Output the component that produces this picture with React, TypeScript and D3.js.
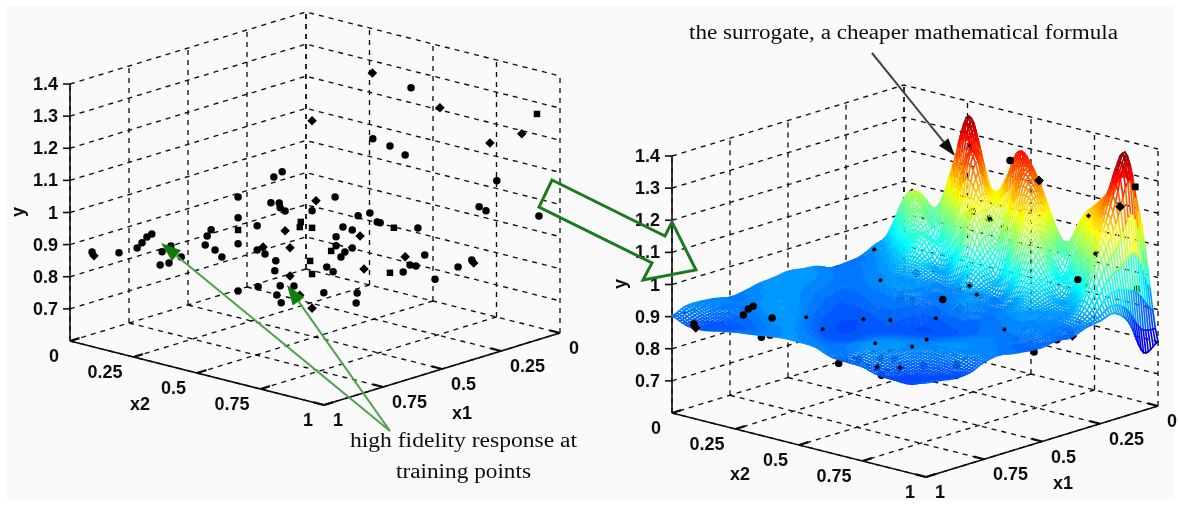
import React, { useMemo } from 'react';
import * as d3 from 'd3';

// ticks
const yTicks = [0.7, 0.8, 0.9, 1, 1.1, 1.2, 1.3, 1.4];
const floorTicks = [0, 0.25, 0.5, 0.75, 1];

// training points
const x1Values = [
  0.3, 0.304, 0.506, 0.245, 0.047, 0.078, 0.143, 0.382, 0.347, 0.316, 0.129, 0.567, 0.584, 0.657, 0.459, 0.498,
  0.165, 0.151, 0.59, 0.573, 0.571, 0.561, 0.506, 0.388, 0.412, 0.043, 0.657, 0.529, 0.531, 0.618, 0.657, 0.712,
  0.506, 0.561, 0.443, 0.424, 0.373, 0.367, 0.339, 0.29, 0.408, 0.457, 0.72, 0.833, 0.843, 0.853, 0.863, 0.724,
  0.657, 0.955, 0.951, 0.9, 0.794, 0.812, 0.704, 0.606, 0.618, 0.602, 0.551, 0.467, 0.457, 0.424, 0.439, 0.447,
  0.316, 0.276, 0.18, 0.69, 0.773, 0.58, 0.51, 0.816, 0.798, 0.582, 0.506, 0.476, 0.463, 0.4, 0.347, 0.32,
  0.306, 0.294, 0.255, 0.208, 0.176, 0.551, 0.657, 0.616, 0.571, 0.543, 0.578, 0.531, 0.569, 0.482, 0.414, 0.416, 0.506,
];
const x2Values = [
  0.54, 0.696, 0.494, 0.755, 0.953, 0.922, 0.857, 0.618, 0.653, 0.684, 0.871, 0.433, 0.416, 0.343, 0.541, 0.502,
  0.835, 0.849, 0.41, 0.427, 0.429, 0.439, 0.494, 0.612, 0.588, 0.957, 0.343, 0.471, 0.469, 0.382, 0.343, 0.288,
  0.494, 0.439, 0.557, 0.576, 0.627, 0.633, 0.661, 0.71, 0.592, 0.543, 0.28, 0.167, 0.157, 0.147, 0.137, 0.276,
  0.343, 0.045, 0.049, 0.1, 0.206, 0.188, 0.296, 0.394, 0.382, 0.398, 0.449, 0.533, 0.543, 0.576, 0.561, 0.553,
  0.684, 0.724, 0.82, 0.31, 0.227, 0.42, 0.49, 0.184, 0.202, 0.418, 0.494, 0.524, 0.537, 0.6, 0.653, 0.68,
  0.694, 0.706, 0.745, 0.792, 0.824, 0.449, 0.343, 0.384, 0.429, 0.457, 0.422, 0.469, 0.431, 0.518, 0.586, 0.584, 0.494,
];
const yValues = [
  1.385, 1.371, 1.273, 1.307, 1.283, 1.222, 1.195, 1.214, 1.191, 1.162, 1.077, 1.116, 1.1, 1.04, 1.035, 1.024,
  0.997, 0.984, 1.02, 1.019, 1.004, 0.994, 0.993, 0.983, 0.975, 0.965, 0.975, 0.959, 0.943, 0.949, 0.937, 0.939,
  0.94, 0.932, 0.941, 0.931, 0.955, 0.952, 0.936, 0.934, 0.912, 0.911, 0.92, 0.929, 0.92, 0.902, 0.886, 0.892,
  0.894, 0.876, 0.864, 0.872, 0.891, 0.873, 0.876, 0.883, 0.874, 0.861, 0.879, 0.867, 0.883, 0.875, 0.863, 0.848,
  0.845, 0.85, 0.832, 0.854, 0.856, 0.839, 0.837, 0.832, 0.838, 0.808, 0.796, 0.817, 0.802, 0.809, 0.796, 0.798,
  0.819, 0.816, 0.774, 0.811, 0.822, 0.791, 0.747, 0.759, 0.761, 0.76, 0.733, 0.731, 0.708, 0.737, 0.735, 0.704, 0.69,
];
// which points are drawn as diamonds or squares, the rest are round
const diamondPoints = [0, 2, 3, 5, 6, 15, 33, 40, 50, 55, 58, 64, 77, 84, 85, 91, 96];
const squarePoints = [4, 27, 28, 30, 32, 38, 59, 70, 74, 78];

// points that sit on top of the surface in the right plot (index into the arrays above)
const topPointsLarge = [1, 3, 4, 5, 16, 34, 43, 44, 45, 49, 50, 52];
const topPointsSmall = [6, 8, 10, 12, 20, 23, 36, 47, 55, 58, 60, 64, 67, 73, 74, 75, 90, 91];

// surrogate surface heights: rows x1 = 0..1, columns x2 = 0..1, in 1/16 steps
const surfaceRows = [
  [1.03, 1.06, 0.98, 1.17, 1.3, 1.18, 1.12, 1.25, 1.23, 1.11, 0.99, 1.08, 1.15, 1.2, 1.31, 1.14, 0.8],
  [0.95, 1.08, 1.1, 1.03, 1.21, 1.38, 1.2, 1.15, 1.3, 1.27, 1.16, 1.04, 1.14, 1.2, 1.26, 1.37, 0.78],
  [0.93, 0.96, 1.05, 1.06, 1.0, 1.12, 1.29, 1.15, 1.08, 1.22, 1.2, 1.08, 0.99, 1.08, 1.19, 1.22, 0.887],
  [0.908, 0.92, 0.95, 1.0, 1.02, 0.96, 1.0, 1.12, 1.02, 0.98, 1.12, 1.1, 1.0, 0.95, 1.01, 1.1, 0.93],
  [0.902, 0.91, 0.92, 0.94, 0.96, 0.95, 0.93, 0.95, 0.98, 0.94, 0.94, 1.0, 0.98, 0.94, 0.93, 0.97, 0.92],
  [0.9, 0.905, 0.91, 0.92, 0.925, 0.93, 0.92, 0.91, 0.92, 0.93, 0.915, 0.915, 0.945, 0.93, 0.92, 0.915, 0.912],
  [0.918, 0.91, 0.905, 0.91, 0.92, 0.925, 0.92, 0.91, 0.91, 0.92, 0.915, 0.91, 0.92, 0.925, 0.915, 0.91, 0.896],
  [0.924, 0.92, 0.91, 0.9, 0.905, 0.91, 0.91, 0.9, 0.895, 0.9, 0.905, 0.9, 0.905, 0.915, 0.92, 0.91, 0.9],
  [0.93, 0.925, 0.915, 0.9, 0.895, 0.9, 0.905, 0.9, 0.89, 0.885, 0.89, 0.895, 0.9, 0.905, 0.91, 0.905, 0.893],
  [0.924, 0.925, 0.92, 0.905, 0.89, 0.885, 0.89, 0.895, 0.89, 0.88, 0.88, 0.885, 0.895, 0.905, 0.91, 0.9, 0.896],
  [0.92, 0.925, 0.925, 0.915, 0.9, 0.885, 0.88, 0.885, 0.89, 0.885, 0.885, 0.89, 0.9, 0.91, 0.915, 0.91, 0.902],
  [0.91, 0.92, 0.925, 0.925, 0.91, 0.89, 0.88, 0.88, 0.885, 0.89, 0.895, 0.9, 0.905, 0.915, 0.92, 0.915, 0.91],
  [0.905, 0.91, 0.92, 0.93, 0.925, 0.905, 0.885, 0.88, 0.885, 0.895, 0.905, 0.91, 0.915, 0.92, 0.92, 0.915, 0.902],
  [0.915, 0.91, 0.91, 0.92, 0.93, 0.925, 0.9, 0.885, 0.885, 0.895, 0.91, 0.92, 0.92, 0.915, 0.905, 0.895, 0.883],
  [0.92, 0.905, 0.895, 0.9, 0.915, 0.925, 0.92, 0.905, 0.895, 0.9, 0.915, 0.925, 0.92, 0.905, 0.89, 0.88, 0.88],
  [0.92, 0.895, 0.885, 0.885, 0.895, 0.91, 0.92, 0.92, 0.91, 0.905, 0.91, 0.92, 0.91, 0.895, 0.88, 0.875, 0.887],
  [0.902, 0.883, 0.883, 0.893, 0.902, 0.908, 0.915, 0.921, 0.921, 0.918, 0.9, 0.896, 0.893, 0.88, 0.877, 0.877, 0.893],
];

const jetStops = [0, 0.125, 0.375, 0.625, 0.875, 1];
const jetColors = ['#000080', '#0000ff', '#00ffff', '#ffff00', '#ff0000', '#800000'];
const zRange: [number, number] = [0.75, 1.39];

const SANS = '"Liberation Sans", Arial, sans-serif';
const SERIF = '"Liberation Serif", "Times New Roman", serif';

type Box = { ox: number; oy: number; x1Vec: [number, number]; x2Vec: [number, number] };

// oblique projection of the matlab style box, x1 = x2 = 0 is the back corner
function makeProjection(box: Box) {
  const x1X = d3.scaleLinear([0, 1], [0, box.x1Vec[0]]);
  const x1Y = d3.scaleLinear([0, 1], [0, box.x1Vec[1]]);
  const x2X = d3.scaleLinear([0, 1], [0, box.x2Vec[0]]);
  const x2Y = d3.scaleLinear([0, 1], [0, box.x2Vec[1]]);
  const z = d3.scaleLinear([0.6, 1.4], [0, 257]);
  return (x1: number, x2: number, y: number): [number, number] => [
    box.ox + x1X(x1) + x2X(x2),
    box.oy + x1Y(x1) + x2Y(x2) - z(y),
  ];
}

const catmull = (a: number, b: number, c: number, d: number, t: number) =>
  0.5 * (2 * b + (c - a) * t + (2 * a - 5 * b + 4 * c - d) * t * t + (-a + 3 * b - 3 * c + d) * t * t * t);

function sampleSurface(u: number, v: number) {
  const n = surfaceRows.length - 1;
  const clamp = (i: number) => Math.max(0, Math.min(n, i));
  const r = Math.min(n - 1, Math.floor(u));
  const c = Math.min(n - 1, Math.floor(v));
  const col = (ri: number) => {
    const row = surfaceRows[clamp(ri)];
    return catmull(row[clamp(c - 1)], row[clamp(c)], row[clamp(c + 1)], row[clamp(c + 2)], v - c);
  };
  const val = catmull(col(r - 1), col(r), col(r + 1), col(r + 2), u - r);
  return Math.max(0.745, Math.min(1.39, val));
}

function Surface({ box }: { box: Box }) {
  const groups = useMemo(() => {
    const project = makeProjection(box);
    const jet = d3.scaleLinear<string>()
      .domain(jetStops.map((s) => zRange[0] + s * (zRange[1] - zRange[0])))
      .range(jetColors)
      .clamp(true);
    const level = d3.scaleQuantize<number>().domain(zRange).range(d3.range(64));
    const sub = 6;
    const n = (surfaceRows.length - 1) * sub;
    const z: number[][] = d3.range(n + 1).map((i) => d3.range(n + 1).map((j) => sampleSurface(i / sub, j / sub)));
    const pos = (i: number, j: number) => project(i / n, j / n, z[i][j]);
    const out: { d: string; color: string; key: string }[] = [];
    // back row first so the front of the surface paints over the back
    for (let i = 0; i <= n; i++) {
      const paths = new Map<number, any>();
      const seg = (a: [number, number], b: [number, number], za: number, zb: number) => {
        const l = level((za + zb) / 2);
        if (!paths.has(l)) paths.set(l, d3.path());
        const p = paths.get(l);
        p.moveTo(a[0], a[1]);
        p.lineTo(b[0], b[1]);
      };
      for (let j = 0; j <= n; j++) {
        if (j < n) seg(pos(i, j), pos(i, j + 1), z[i][j], z[i][j + 1]);
        if (i < n) seg(pos(i, j), pos(i + 1, j), z[i][j], z[i + 1][j]);
      }
      paths.forEach((p, l) => {
        out.push({ d: p.toString(), color: jet(zRange[0] + ((l + 0.5) / 64) * (zRange[1] - zRange[0])), key: i + '-' + l });
      });
    }
    return out;
  }, [box]);
  return (
    <g fill="none" strokeWidth={1.6} strokeLinecap="round">
      {groups.map((g) => <path key={g.key} d={g.d} stroke={g.color} />)}
    </g>
  );
}

function Points({ box, only, scale = 1 }: { box: Box; only?: number[]; scale?: number }) {
  const project = makeProjection(box);
  const idx = only || d3.range(x1Values.length);
  return (
    <g fill="#000">
      {idx.map((i) => {
        const [px, py] = project(x1Values[i], x2Values[i], yValues[i]);
        const isDiamond = diamondPoints.includes(i);
        const isSquare = squarePoints.includes(i);
        const type = isDiamond ? d3.symbolDiamond2 : isSquare ? d3.symbolSquare : d3.symbolCircle;
        const size = isDiamond ? 58 : isSquare ? 42 : 44;
        const d = d3.symbol(type, size * scale)() as string;
        return <path key={i} d={d} transform={`translate(${px},${py})`} />;
      })}
    </g>
  );
}

function Box3D({ box, yLabelX, xLabels }: { box: Box; yLabelX: number; xLabels: { x2: [number, number]; x1: [number, number] } }) {
  const p = makeProjection(box);
  const line = d3.line();
  const bottom = 0.6;
  const top = 1.4;
  const grid: string[] = [];
  floorTicks.forEach((t) => {
    // floor
    grid.push(line([p(t, 0, bottom), p(t, 1, bottom)]) as string);
    grid.push(line([p(0, t, bottom), p(1, t, bottom)]) as string);
    // walls, verticals
    grid.push(line([p(t, 0, bottom), p(t, 0, top)]) as string);
    grid.push(line([p(0, t, bottom), p(0, t, top)]) as string);
  });
  yTicks.forEach((v) => {
    grid.push(line([p(1, 0, v), p(0, 0, v), p(0, 1, v)]) as string);
  });
  const fontProps = { fontFamily: SANS, fontWeight: 700, fontSize: 18, fill: '#111' };
  const [, ly] = p(1, 0, bottom);
  return (
    <g>
      <g fill="none" stroke="#111" strokeWidth={1.35} strokeDasharray="5 5">
        {grid.map((d, i) => <path key={i} d={d} />)}
      </g>
      {/* solid axes */}
      <g fill="none" stroke="#111" strokeWidth={1.6}>
        <path d={line([p(1, 0, bottom), p(1, 0, top)]) as string} />
        <path d={line([p(1, 0, bottom), p(1, 1, bottom)]) as string} />
        <path d={line([p(1, 1, bottom), p(0, 1, bottom)]) as string} />
        {yTicks.map((v) => {
          const [ax, ay] = p(1, 0, v);
          return <path key={v} d={line([[ax - 7, ay], [ax, ay]]) as string} />;
        })}
        {floorTicks.map((t) => <path key={'a' + t} strokeWidth={2.2} d={line([p(1, t, bottom), p(0.96, t, bottom)]) as string} />)}
        {floorTicks.map((t) => <path key={'b' + t} strokeWidth={2.2} d={line([p(t, 1, bottom), p(t, 0.96, bottom)]) as string} />)}
      </g>
      {yTicks.map((v) => {
        const [ax, ay] = p(1, 0, v);
        return <text key={v} x={ax - 12} y={ay + 6} textAnchor="end" {...fontProps}>{String(v)}</text>;
      })}
      {floorTicks.map((t) => {
        const [ax, ay] = p(1, t, bottom);
        return <text key={'x2' + t} x={ax - 11} y={ay + 21} textAnchor="end" {...fontProps}>{String(t)}</text>;
      })}
      {floorTicks.map((t) => {
        const [ax, ay] = p(t, 1, bottom);
        return <text key={'x1' + t} x={ax + 9} y={ay + 21} textAnchor="start" {...fontProps}>{String(t)}</text>;
      })}
      <text x={xLabels.x2[0]} y={xLabels.x2[1]} textAnchor="middle" {...fontProps}>x2</text>
      <text x={xLabels.x1[0]} y={xLabels.x1[1]} textAnchor="middle" {...fontProps}>x1</text>
      <text transform={`translate(${yLabelX},${ly - 129}) rotate(-90)`} textAnchor="middle" {...fontProps}>y</text>
    </g>
  );
}

function Arrow({ from, to, color, headColor, width, len, half }: any) {
  const a = Math.atan2(from[1] - to[1], from[0] - to[0]);
  const bx = to[0] + Math.cos(a) * len;
  const by = to[1] + Math.sin(a) * len;
  const head = [
    to,
    [bx - Math.sin(a) * half, by + Math.cos(a) * half],
    [bx + Math.sin(a) * half, by - Math.cos(a) * half],
  ] as [number, number][];
  return (
    <g>
      <path d={d3.line()([from, [bx, by]]) as string} stroke={color} strokeWidth={width} fill="none" />
      <path d={(d3.line()(head) as string) + 'Z'} fill={headColor} />
    </g>
  );
}

const leftBox: Box = { ox: 306, oy: 269, x1Vec: [-236, 72], x2Vec: [254, 64] };
const rightBox: Box = { ox: 904, oy: 342, x1Vec: [-232, 71], x2Vec: [254, 64] };

export default function App() {
  return (
    <svg width={1180} height={506} style={{ position: 'absolute', left: 0, top: 0, display: 'block' }}>
      <defs>
        <filter id="soft" x="0" y="0" width="100%" height="100%">
          <feGaussianBlur stdDeviation="0.4" />
        </filter>
      </defs>
      <rect width={1180} height={506} fill="#fff" />
      <rect x={6} y={6} width={1168} height={494} fill="#fafafa" />
      <g filter="url(#soft)">
        {/* left: scatter of training points */}
        <Box3D box={leftBox} yLabelX={24} xLabels={{ x2: [140, 410], x1: [462, 419] }} />
        <Points box={leftBox} />

        {/* right: surrogate surface */}
        <Box3D box={rightBox} yLabelX={626} xLabels={{ x2: [740, 480], x1: [1063, 489] }} />
        <Points box={rightBox} />
        <Surface box={rightBox} />
        <Points box={rightBox} only={topPointsLarge} />
        <Points box={rightBox} only={topPointsSmall} scale={0.3} />

        {/* annotations */}
        <path d="M552,180 L665,236 L672,222 L696,270 L643,280 L652,263 L539,207 Z" fill="none" stroke="#1f7a1f" strokeWidth={3} />
        <Arrow from={[390, 431]} to={[161, 243]} color="#4f9f4f" headColor="#0b7d0b" width={2} len={20} half={7} />
        <Arrow from={[390, 431]} to={[287, 285]} color="#4f9f4f" headColor="#0b7d0b" width={2} len={20} half={7} />
        <Arrow from={[872, 53]} to={[955, 156]} color="#444" headColor="#111" width={2} len={18} half={6} />
        <text x={689} y={39} fontFamily={SERIF} fontSize={20} fill="#111" textLength={429} lengthAdjust="spacingAndGlyphs">the surrogate, a cheaper mathematical formula</text>
        <text x={350} y={447} fontFamily={SERIF} fontSize={20} fill="#111" textLength={227} lengthAdjust="spacingAndGlyphs">high fidelity response at</text>
        <text x={396} y={478} fontFamily={SERIF} fontSize={20} fill="#111" textLength={135} lengthAdjust="spacingAndGlyphs">training points</text>
      </g>
    </svg>
  );
}
